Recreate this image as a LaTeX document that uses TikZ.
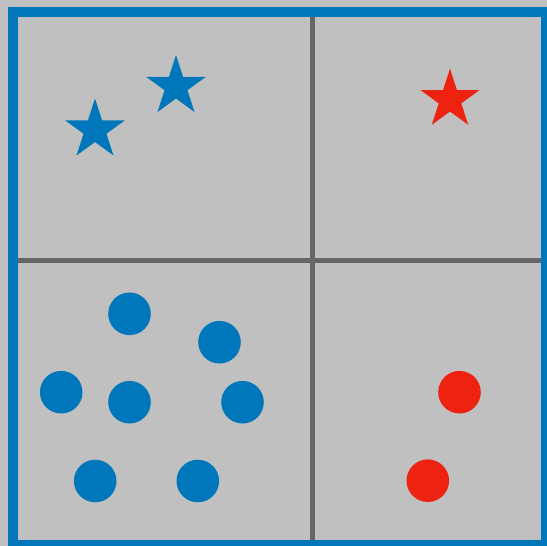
\documentclass[tikz,border=0pt]{standalone}
\definecolor{tolblue}{HTML}{0077BB}
\definecolor{tolred}{HTML}{EE2211}
\definecolor{bggray}{HTML}{C0C0C0}
\definecolor{divgray}{HTML}{666666}
\newcommand\drawstarat[4]{%
  \fill[#4, shift={(#1,#2)}] (-90:#3) -- (-54:{#3*0.382}) -- (-18:#3) -- (18:{#3*0.382}) -- (54:#3) -- (90:{#3*0.382}) -- (126:#3) -- (162:{#3*0.382}) -- (198:#3) -- (234:{#3*0.382}) -- cycle;}
\tikzset{
  divider/.style={draw=divgray, line width=5pt},
  frame/.style={draw=tolblue, line width=10pt},
  dot/.style={circle, fill=#1, draw=none, inner sep=0pt, minimum size=42.6pt},
}
\begin{document}
\begin{tikzpicture}[x=1pt, y=-1pt]
  \useasboundingbox (0,0) rectangle (547,546);
  \fill[bggray] (0,0) rectangle (547,546);
  \begin{scope}
    \clip (0,0) rectangle (547,546);
    \coordinate (vt) at (312.5,12);
    \coordinate (vb) at (312.5,545);
    \coordinate (hl) at (13,260);
    \coordinate (hr) at (546,260);
    \draw[divider] (vt) -- (vb);
    \draw[divider] (hl) -- (hr);
    \draw[frame] (13,12) rectangle (546,545);
  \end{scope}
  \drawstarat{95}{130}{31.5}{tolblue}
  \drawstarat{176}{86.5}{31.5}{tolblue}
  \drawstarat{450}{99.7}{31}{tolred}
  \node[dot=tolblue] (b1) at (129.5,313.8) {};
  \node[dot=tolblue] (b2) at (219.5,342.2) {};
  \node[dot=tolblue] (b3) at (61.2,392.2) {};
  \node[dot=tolblue] (b4) at (129.5,402.2) {};
  \node[dot=tolblue] (b5) at (242.5,402.2) {};
  \node[dot=tolblue] (b6) at (95.2,481) {};
  \node[dot=tolblue] (b7) at (197.8,481) {};
  \node[dot=tolred] (r1) at (459.5,392.2) {};
  \node[dot=tolred] (r2) at (427.8,480.7) {};
\end{tikzpicture}
\end{document}
